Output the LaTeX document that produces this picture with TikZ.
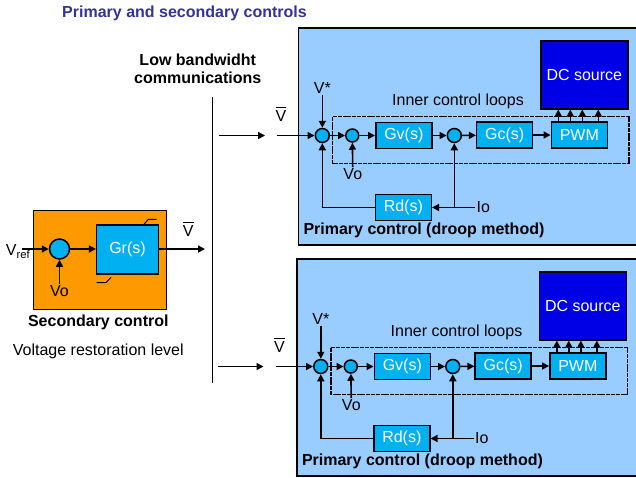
\documentclass[tikz,border=0pt]{standalone}
\usepackage{fontspec}
\setmainfont{Liberation Sans}
\usetikzlibrary{arrows.meta}

\definecolor{panelblue}{RGB}{153,204,255}
\definecolor{blockblue}{RGB}{0,176,240}
\definecolor{srcblue}{RGB}{0,0,230}
\definecolor{secorange}{RGB}{255,153,0}
\definecolor{titleblue}{RGB}{51,51,153}

\newcommand{\vbar}{\leavevmode\vbox{\hrule height 1pt\kern 3pt\hbox{V}}}

\tikzset{
  txt/.style={font=\fontsize{16}{18}\selectfont, inner sep=1pt},
  boldtxt/.style={font=\fontsize{16}{18}\selectfont\bfseries, inner sep=1pt},
  block/.style={draw, line width=1.5pt, fill=blockblue, text=white,
    font=\fontsize{16}{18}\selectfont, minimum width=56pt, minimum height=26pt, inner sep=0pt},
  srcbox/.style={block, fill=srcblue, minimum width=87pt, minimum height=68pt},
  sumpt/.style={circle, draw, line width=1.5pt, fill=blockblue, minimum size=14pt, inner sep=0pt},
  panel/.style={draw, line width=1.5pt, fill=panelblue},
  secbox/.style={draw, line width=1.5pt, fill=secorange},
  innerloop/.style={draw, line width=1.5pt, dash pattern=on 4pt off 0.8pt},
  wire/.style={line width=1.6pt},
  sig/.style={wire, -{Triangle[length=7pt,width=7pt]}},
  satmark/.style={line width=1pt}
}

\begin{document}
\begin{tikzpicture}[x=1pt, y=-1pt]
  \useasboundingbox (0,0) rectangle (636,477);

  % titles
  \node[boldtxt, text=titleblue] (title) at (184.5,13.3) {Primary and secondary controls};
  \node[boldtxt, align=center] (comm) at (197.7,68.3) {Low bandwidht\\communications};

  % secondary control
  \draw[secbox] (33.3,210.7) rectangle (166.7,309.3);
  \node[sumpt, minimum size=20pt] (sr) at (59.5,249) {};
  \node[block, minimum width=61.6pt, minimum height=48.6pt] (gr) at (127.5,249.5) {Gr(s)};
  \draw[satmark] (144,224.3) -- (148.3,219.3) -- (156.7,219.3);
  \draw[satmark] (96.7,282.7) -- (106,282.7) -- (111,277.3);
  \node[txt] (vref) at (18,251.5) {V\textsubscript{ref}};
  \coordinate (vin) at (22,249);
  \node[txt] (vor) at (59.5,291) {Vo};
  \coordinate (vout) at (205,249);
  \node[txt] (vbr) at (188.3,229) {\vbar};
  \node[boldtxt] (seclbl) at (98.3,322.7) {Secondary control};
  \node[txt] (reslbl) at (98.3,351.7) {Voltage restoration level};

  \draw[sig] (vin) -- (sr);
  \draw[sig] (vor) -- (sr);
  \draw[sig] (sr) -- (sr -| gr.west);
  \draw[sig] (gr.east |- vout) -- (vout);

  % communication bus
  \coordinate (bust) at (212.5,97);
  \coordinate (busb) at (212.5,383);
  \draw[wire] (bust) -- (busb);

  % primary controls
  \foreach \dx/\dy/\p in {0/0/t, -1.5/231/b}{
    \begin{scope}[shift={(\dx,\dy)}]
      \draw[panel] (298.5,28) rectangle (640,245);
      \draw[innerloop] (332.7,116.7) rectangle (629,163.3);

      \node[srcbox] (dc\p) at (584.3,74.8) {DC source};
      \node[sumpt] (s1\p) at (322.3,135.5) {};
      \node[sumpt, minimum size=13pt] (s2\p) at (352.3,135.5) {};
      \node[block] (gv\p) at (403.8,135.5) {Gv(s)};
      \node[sumpt] (s3\p) at (454.3,135.5) {};
      \node[block] (gc\p) at (504.7,135) {Gc(s)};
      \node[block] (pwm\p) at (579.3,135) {PWM};
      \node[block] (rd\p) at (403.3,207.5) {Rd(s)};

      \node[txt] (vs\p) at (322.3,88) {V*};
      \node[txt] (vo\p) at (352.8,174) {Vo};
      \node[txt] (io\p) at (483.3,207.5) {Io};
      \node[txt] (ilbl\p) at (458,101.7) {Inner control loops};
      \node[boldtxt, anchor=west] (plbl\p) at (302.3,230.7) {Primary control (droop method)};
      \node[txt] (vb\p) at (281,114) {\vbar};

      \coordinate (ta\p) at (219,135.5);
      \coordinate (tb\p) at (265,135.5);
      \coordinate (in\p) at (277.3,135.5);
      \coordinate (jn\p) at (454.3,207.5);

      \draw[sig] (ta\p) -- (tb\p);
      \draw[sig] (in\p) -- (s1\p);
      \draw[sig] (vs\p) -- (s1\p);
      \draw[sig] (s1\p) -- (s2\p);
      \draw[sig] (vo\p) -- (s2\p);
      \draw[sig] (s2\p) -- (gv\p);
      \draw[sig] (gv\p) -- (s3\p);
      \draw[sig] (s3\p) -- (gc\p);
      \draw[sig] (gc\p) -- (pwm\p);
      \foreach \o in {-21,-9,3,19}
        \draw[sig] ([xshift=\o pt]pwm\p.north) -- ([xshift=\o pt]pwm\p.north |- dc\p.south);
      \draw[sig] (io\p.west) -- (rd\p.east);
      \draw[sig] (jn\p) -- (s3\p);
      \draw[sig] (rd\p.west) -| (s1\p);
    \end{scope}
  }
\end{tikzpicture}
\end{document}
